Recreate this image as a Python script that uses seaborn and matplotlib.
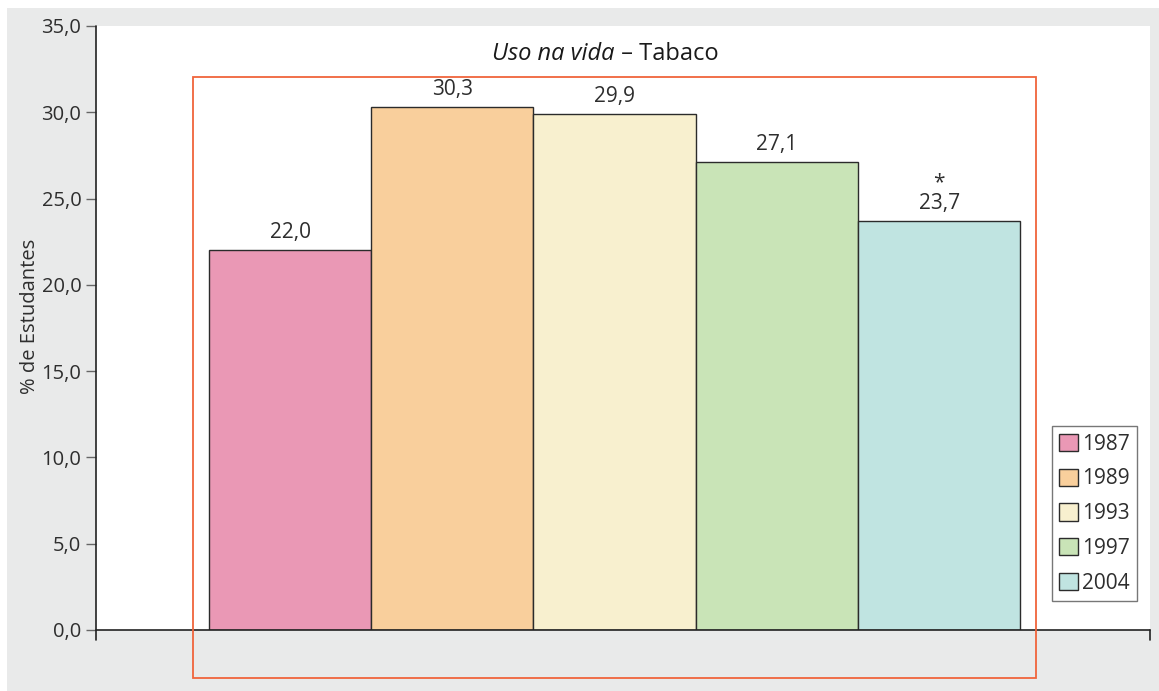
import matplotlib.pyplot as plt
import matplotlib.patches as mpatches
import pandas as pd
import seaborn as sns

years = ["1987", "1989", "1993", "1997", "2004"]
values = [22.0, 30.3, 29.9, 27.1, 23.7]
labels = ["22,0", "30,3", "29,9", "27,1", "*\n23,7"]
colors = ["#ea98b5", "#f9cf9c", "#f8f0cf", "#c9e4b7", "#c0e4e1"]
yticks = [0, 5, 10, 15, 20, 25, 30, 35]
ytick_labels = ["0,0", "5,0", "10,0", "15,0", "20,0", "25,0", "30,0", "35,0"]

df = pd.DataFrame({"ano": years, "pct": values})

sns.set_style("white")
plt.rcParams["font.family"] = ["Open Sans", "DejaVu Sans"]
text_color = "#2e2e2e"

W, H = 1159, 691
fig = plt.figure(figsize=(W / 100, H / 100), dpi=100, facecolor="white")
fig.patches.append(mpatches.Rectangle((7 / W, 0), 1, 1 - 8 / H, transform=fig.transFigure,
                                      facecolor="#e9eaea", edgecolor="none", zorder=-10))

ax = fig.add_axes([96 / W, (H - 630) / H, (1150 - 96) / W, (630 - 26) / H])
ax.set_facecolor("white")

sns.barplot(data=df, x="ano", y="pct", hue="ano", palette=colors, width=1.0, saturation=1,
            edgecolor="#2b2b2b", linewidth=1.0, legend=False, ax=ax)

ax.set_xlim(-1.196, 5.30)
ax.set_ylim(0, 35)
ax.set_xticks([])
ax.set_xlabel("")
ax.set_yticks(yticks)
ax.set_yticklabels(ytick_labels, fontsize=14.5, color=text_color)
ax.tick_params(axis="y", length=7.5, width=1, color="#666666", pad=3, left=True)
for s in ax.spines.values():
    s.set_visible(False)

# axis lines
ax.plot([0, 0], [-10 / 604, 1], transform=ax.transAxes, color="#222222", lw=1.2, clip_on=False)
ax.plot([0, 1], [0, 0], transform=ax.transAxes, color="#222222", lw=1.2, clip_on=False)
ax.plot([1, 1], [0, -10 / 604], transform=ax.transAxes, color="#222222", lw=1.2, clip_on=False)

for i, (v, lab) in enumerate(zip(values, labels)):
    ax.text(i, v + 0.4, lab, ha="center", va="bottom", fontsize=15, color=text_color,
            linespacing=1.0)

# red frame
ax.add_patch(mpatches.Rectangle((-0.598, -2.78), 5.196, 34.82, fill=False,
                                edgecolor="#f0643c", linewidth=1.3, clip_on=False, zorder=5))

ax.text(2.0, 33.4, "Uso na vida", ha="right", va="center", fontsize=17, style="italic",
        color="#1a1a1a")
ax.text(2.0, 33.4, " – Tabaco", ha="left", va="center", fontsize=17, color="#1a1a1a")

ax.set_ylabel("% de Estudantes", fontsize=14.5, color=text_color)
ax.yaxis.set_label_coords(-56 / 1054, 0.52)

handles = [mpatches.Patch(facecolor=c, edgecolor="#2b2b2b", linewidth=1.0) for c in colors]
leg = ax.legend(handles, years, loc="lower left", bbox_to_anchor=(0.907, 0.048),
                fontsize=15, frameon=True, fancybox=False, handlelength=0.9, handleheight=0.9,
                handletextpad=0.2, labelspacing=0.66, borderpad=0.35, borderaxespad=0)
leg.get_frame().set_edgecolor("#555555")
leg.get_frame().set_linewidth(1.0)
for t in leg.get_texts():
    t.set_color(text_color)

fig.savefig("out.png", dpi=100, facecolor="white")
